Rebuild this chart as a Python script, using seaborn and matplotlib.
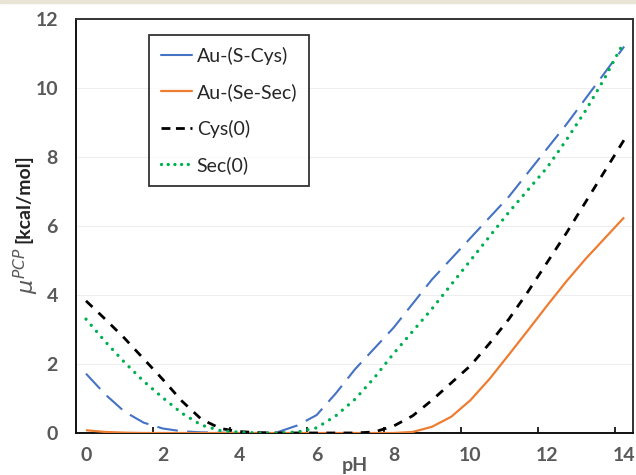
import numpy as np
import pandas as pd
import matplotlib
matplotlib.use("Agg")
import matplotlib.pyplot as plt
from matplotlib.lines import Line2D
from matplotlib.patches import Rectangle
import seaborn as sns

# ---- data ----
ph = [0, 0.5, 1, 1.5, 2, 2.5, 3, 3.5, 4, 4.5, 5, 5.5, 6, 6.5, 7, 7.5,
      8, 8.5, 9, 9.5, 10, 10.5, 11, 11.5, 12, 12.5, 13, 13.5, 14]
au_s_cys = [1.72, 1.12, 0.62, 0.30, 0.13, 0.05, 0.02, 0.01, 0.0, 0.0, 0.03, 0.22,
            0.52, 1.15, 1.85, 2.45, 3.05, 3.75, 4.45, 5.05, 5.65, 6.25, 6.85,
            7.55, 8.25, 8.95, 9.7, 10.45, 11.2]
au_se_sec = [0.08, 0.03, 0.01, 0.0, 0.0, 0.0, 0.0, 0.0, 0.0, 0.0, 0.0, 0.0,
             0.0, 0.0, 0.0, 0.0, 0.0, 0.03, 0.18, 0.47, 0.95, 1.57, 2.27,
             2.98, 3.7, 4.4, 5.05, 5.65, 6.25]
cys0 = [3.83, 3.3, 2.75, 2.15, 1.55, 0.92, 0.40, 0.13, 0.04, 0.01, 0.0, 0.0,
        0.0, 0.0, 0.0, 0.03, 0.2, 0.5, 0.95, 1.45, 1.95, 2.6, 3.3, 4.1,
        4.95, 5.8, 6.7, 7.6, 8.5]
sec0 = [3.3, 2.65, 2.05, 1.5, 1.02, 0.57, 0.23, 0.07, 0.02, 0.0, 0.0, 0.03,
        0.15, 0.5, 0.98, 1.6, 2.3, 2.95, 3.6, 4.3, 5.0, 5.7, 6.4, 7.05,
        7.7, 8.5, 9.35, 10.3, 11.35]
series_names = ["Au-(S-Cys)", "Au-(Se-Sec)", "Cys(0)", "Sec(0)"]
x_ticks = [0, 2, 4, 6, 8, 10, 12, 14]
y_ticks = [0, 2, 4, 6, 8, 10, 12]

colors = ["#4472C4", "#ED7D31", "#000000", "#00B050"]

sns.set_theme(style="white")
plt.rcParams["font.family"] = ["Lato", "DejaVu Sans"]

fig = plt.figure(figsize=(6.36, 4.75), dpi=100)
ax = fig.add_axes([76 / 636, 1 - 433 / 475, 557 / 636, 414 / 475])

# beige strip at very top
fig.patches.append(Rectangle((0, 1 - 3 / 475), 1, 3 / 475, transform=fig.transFigure,
                             color="#e8e4d6", zorder=0))

df = pd.DataFrame({"pH": ph, series_names[0]: au_s_cys, series_names[1]: au_se_sec,
                   series_names[2]: cys0, series_names[3]: sec0})

styles = [
    dict(lw=1.5, dashes=(10, 4.5), cap="butt"),
    dict(lw=1.6, dashes=None, cap="butt"),
    dict(lw=2.0, dashes=(3.2, 3.0), cap="butt"),
    dict(lw=2.4, dashes=(0.01, 2.4), cap="round"),
]
for name, c, st in zip(series_names, colors, styles):
    sns.lineplot(data=df, x="pH", y=name, color=c, ax=ax, linewidth=st["lw"],
                 legend=False, zorder=3)
    ln = ax.lines[-1]
    if st["dashes"] is not None:
        ln.set_dashes(st["dashes"])
    ln.set_dash_capstyle(st["cap"])
    ln.set_solid_capstyle("butt")

ax.set_xlim(-0.26, 14.23)
ax.set_ylim(0, 12)
ax.set_xticks(x_ticks)
ax.set_xticklabels([str(v) for v in x_ticks])
ax.set_yticks(y_ticks)
ax.set_yticklabels([str(v) for v in y_ticks])
ax.set_xticks([1.75 + 2 * k for k in range(7)], minor=True)
ax.tick_params(axis="x", which="major", length=0, pad=10, labelsize=14,
               labelcolor="#595959")
ax.tick_params(axis="x", which="minor", direction="in", length=4.5, width=1.2,
               color="#000000", bottom=True)
ax.tick_params(axis="y", which="major", length=0, pad=13, labelsize=14,
               labelcolor="#595959")
for lab in ax.get_xticklabels() + ax.get_yticklabels():
    lab.set_fontweight("bold")

ax.yaxis.grid(True, color="#eeeeee", lw=0.8)
ax.xaxis.grid(False)

for side in ["left", "bottom"]:
    ax.spines[side].set_color("#111111")
    ax.spines[side].set_linewidth(1.4)
for side in ["top", "right"]:
    ax.spines[side].set_color("#333333")
    ax.spines[side].set_linewidth(1.4)

ax.set_xlabel("pH", fontsize=14, fontweight="bold", color="#595959")
ax.xaxis.set_label_coords(0.5, -(465 - 433) / 414)
ax.xaxis.label.set_va("center")
ax.set_ylabel("")

fig.text(23 / 636, 1 - 199 / 475, "[kcal/mol]", rotation=90, ha="center", va="center",
         fontsize=14, fontweight="bold", color="#222222")
fig.text(26 / 636, 1 - 270 / 475, r"$\mathit{\mu}^{PCP}$", rotation=90, ha="center",
         va="center", fontsize=16, color="#595959")

handles = [
    Line2D([], [], color=colors[0], lw=1.5),
    Line2D([], [], color=colors[1], lw=1.6),
    Line2D([], [], color=colors[2], lw=2.0, dashes=(3.2, 2.0)),
    Line2D([], [], color=colors[3], lw=2.4, dashes=(0.01, 2.0), dash_capstyle="round"),
]
leg = ax.legend(handles, series_names, loc="upper left",
                bbox_to_anchor=((149 - 76) / 557, (433 - 35) / 414), borderaxespad=0,
                fontsize=14, frameon=True, fancybox=False, handlelength=1.6,
                handletextpad=0.25, labelspacing=0.95, borderpad=0.6)
leg.get_frame().set_edgecolor("#000000")
leg.get_frame().set_linewidth(1.3)

fig.savefig("out.png", dpi=100)
